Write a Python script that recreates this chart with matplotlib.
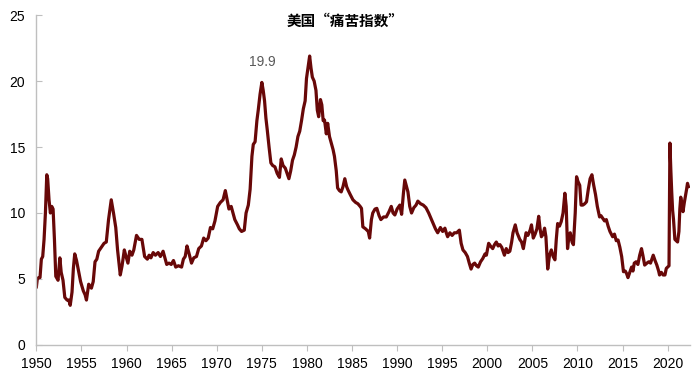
import matplotlib.pyplot as plt

plt.rcParams['font.family'] = ['Liberation Sans', 'DejaVu Sans']

# 美国“痛苦指数” (失业率 + CPI同比)
years = [
    1950.0, 1950.1, 1950.25, 1950.4, 1950.55, 1950.7, 1950.85, 1951.0, 1951.15, 1951.25,
    1951.4, 1951.55, 1951.7, 1951.85, 1952.0, 1952.15, 1952.4, 1952.6, 1952.75, 1952.95,
    1953.15, 1953.4, 1953.6, 1953.75, 1953.95, 1954.1, 1954.25, 1954.45, 1954.65, 1954.9,
    1955.2, 1955.4, 1955.55, 1955.8, 1956.1, 1956.3, 1956.5, 1956.7, 1956.9, 1957.2,
    1957.5, 1957.75, 1958.0, 1958.3, 1958.55, 1958.8, 1959.0, 1959.3, 1959.5, 1959.75,
    1959.9, 1960.15, 1960.35, 1960.6, 1960.8, 1961.1, 1961.4, 1961.7, 1962.0, 1962.3,
    1962.5, 1962.7, 1962.95, 1963.2, 1963.5, 1963.75, 1964.05, 1964.25, 1964.45, 1964.7,
    1964.95, 1965.2, 1965.45, 1965.75, 1966.1, 1966.3, 1966.5, 1966.7, 1966.9, 1967.2,
    1967.45, 1967.75, 1968.0, 1968.3, 1968.55, 1968.8, 1969.05, 1969.3, 1969.55, 1969.8,
    1970.1, 1970.4, 1970.7, 1970.95, 1971.15, 1971.35, 1971.6, 1971.8, 1972.0, 1972.3,
    1972.5, 1972.75, 1973.05, 1973.25, 1973.5, 1973.7, 1973.9, 1974.05, 1974.25, 1974.45,
    1974.6, 1974.8, 1975.0, 1975.15, 1975.3, 1975.45, 1975.6, 1975.8, 1976.0, 1976.2,
    1976.45, 1976.7, 1976.95, 1977.15, 1977.35, 1977.6, 1977.8, 1978.0, 1978.2, 1978.4,
    1978.6, 1978.8, 1979.0, 1979.2, 1979.4, 1979.6, 1979.8, 1979.95, 1980.15, 1980.3,
    1980.45, 1980.6, 1980.8, 1981.0, 1981.15, 1981.3, 1981.5, 1981.65, 1981.8, 1981.95,
    1982.15, 1982.3, 1982.5, 1982.7, 1982.9, 1983.05, 1983.25, 1983.4, 1983.6, 1983.8,
    1984.0, 1984.2, 1984.4, 1984.55, 1984.8, 1985.1, 1985.4, 1985.65, 1985.9, 1986.05,
    1986.2, 1986.5, 1986.8, 1986.95, 1987.15, 1987.3, 1987.55, 1987.75, 1988.0, 1988.2,
    1988.5, 1988.8, 1989.1, 1989.35, 1989.55, 1989.75, 1990.0, 1990.3, 1990.5, 1990.7,
    1990.85, 1991.0, 1991.2, 1991.4, 1991.6, 1991.85, 1992.1, 1992.3, 1992.6, 1992.9,
    1993.2, 1993.5, 1993.75, 1994.0, 1994.25, 1994.5, 1994.8, 1995.05, 1995.3, 1995.45,
    1995.6, 1995.85, 1996.1, 1996.35, 1996.6, 1996.9, 1997.1, 1997.3, 1997.55, 1997.8,
    1998.0, 1998.2, 1998.4, 1998.6, 1998.8, 1999.0, 1999.25, 1999.5, 1999.75, 1999.9,
    2000.15, 2000.35, 2000.6, 2000.8, 2001.0, 2001.2, 2001.4, 2001.6, 2001.9, 2002.1,
    2002.3, 2002.5, 2002.7, 2002.85, 2003.1, 2003.3, 2003.6, 2003.8, 2004.0, 2004.3,
    2004.5, 2004.75, 2004.9, 2005.1, 2005.3, 2005.5, 2005.7, 2005.85, 2006.0, 2006.2,
    2006.35, 2006.5, 2006.7, 2006.9, 2007.1, 2007.3, 2007.5, 2007.65, 2007.8, 2008.0,
    2008.2, 2008.4, 2008.6, 2008.75, 2008.9, 2009.05, 2009.2, 2009.4, 2009.55, 2009.75,
    2009.9, 2010.05, 2010.25, 2010.4, 2010.6, 2010.8, 2011.0, 2011.2, 2011.4, 2011.6,
    2011.8, 2012.0, 2012.2, 2012.45, 2012.6, 2012.8, 2013.0, 2013.2, 2013.4, 2013.6,
    2013.9, 2014.1, 2014.3, 2014.5, 2014.7, 2014.9, 2015.1, 2015.3, 2015.45, 2015.6,
    2015.8, 2016.0, 2016.15, 2016.3, 2016.5, 2016.7, 2016.9, 2017.1, 2017.25, 2017.45,
    2017.7, 2017.9, 2018.1, 2018.4, 2018.6, 2018.8, 2019.0, 2019.1, 2019.3, 2019.5,
    2019.7, 2019.85, 2020.0, 2020.15, 2020.25, 2020.35, 2020.45, 2020.55, 2020.65, 2020.8,
    2020.95, 2021.1, 2021.25, 2021.35, 2021.45, 2021.55, 2021.7, 2021.85, 2022.0, 2022.1,
    2022.2, 2022.3,
]
misery = [
    4.4, 5.0, 5.1, 5.1, 6.5, 6.7, 8.0, 10.0, 12.9, 12.6,
    11.0, 10.0, 10.5, 10.3, 8.0, 5.2, 4.9, 6.6, 5.5, 4.9,
    3.6, 3.4, 3.4, 3.0, 4.0, 5.8, 6.9, 6.4, 5.7, 4.8,
    4.1, 3.8, 3.4, 4.6, 4.3, 4.8, 6.3, 6.5, 7.1, 7.4,
    7.7, 7.8, 9.5, 11.0, 10.0, 8.9, 7.2, 5.3, 6.0, 7.2,
    6.8, 6.2, 7.1, 6.8, 7.2, 8.3, 8.0, 8.0, 6.7, 6.5,
    6.8, 6.6, 7.0, 6.8, 7.0, 6.7, 7.1, 6.6, 6.1, 6.2,
    6.1, 6.4, 5.9, 6.0, 5.9, 6.5, 6.7, 7.5, 7.0, 6.2,
    6.6, 6.7, 7.3, 7.5, 8.1, 7.9, 8.1, 8.9, 8.8, 9.4,
    10.5, 10.8, 11.0, 11.7, 11.0, 10.3, 10.5, 10.0, 9.5, 9.1,
    8.8, 8.6, 8.7, 10.0, 10.6, 11.8, 14.3, 15.2, 15.4, 17.0,
    17.8, 19.0, 19.9, 19.3, 18.5, 17.2, 16.3, 15.0, 13.8, 13.6,
    13.5, 13.0, 12.7, 14.1, 13.6, 13.4, 13.0, 12.6, 13.2, 14.0,
    14.4, 15.0, 15.8, 16.2, 17.0, 17.9, 18.5, 20.2, 21.2, 21.9,
    21.0, 20.3, 20.0, 19.3, 17.8, 17.3, 18.6, 18.2, 17.0, 17.05,
    16.0, 16.8, 15.8, 15.3, 14.8, 14.3, 13.2, 11.9, 11.7, 11.6,
    12.0, 12.6, 12.0, 11.75, 11.4, 11.0, 10.8, 10.7, 10.5, 10.35,
    8.95, 8.8, 8.6, 8.1, 9.5, 10.0, 10.3, 10.35, 9.8, 9.5,
    9.7, 9.7, 10.1, 10.5, 10.0, 9.85, 10.3, 10.6, 9.9, 11.5,
    12.5, 12.1, 11.6, 10.5, 10.0, 10.4, 10.6, 10.9, 10.7, 10.6,
    10.4, 10.0, 9.6, 9.2, 8.8, 8.5, 8.9, 8.6, 8.85, 8.5,
    8.2, 8.5, 8.3, 8.5, 8.5, 8.7, 7.7, 7.2, 7.0, 6.7,
    6.2, 5.75, 6.1, 6.2, 6.0, 5.9, 6.3, 6.55, 6.9, 6.8,
    7.7, 7.5, 7.3, 7.6, 7.8, 7.5, 7.6, 7.4, 6.8, 7.3,
    7.0, 7.1, 7.8, 8.5, 9.1, 8.5, 8.0, 7.8, 7.3, 8.5,
    8.3, 8.7, 9.1, 8.1, 8.4, 8.8, 9.75, 8.8, 8.2, 8.4,
    8.85, 8.2, 5.75, 6.8, 7.2, 6.7, 6.45, 8.0, 9.2, 9.0,
    9.35, 10.0, 11.5, 10.5, 7.3, 8.2, 8.5, 7.8, 7.6, 10.0,
    12.75, 12.4, 12.1, 10.6, 10.6, 10.7, 10.85, 11.8, 12.6, 12.9,
    12.1, 11.4, 10.5, 9.7, 9.8, 9.6, 9.4, 9.5, 9.0, 8.6,
    8.2, 8.4, 7.9, 7.95, 7.4, 6.7, 5.55, 5.6, 5.4, 5.1,
    5.5, 5.9, 5.6, 6.2, 6.3, 6.1, 6.8, 7.3, 6.8, 6.05,
    6.2, 6.3, 6.2, 6.8, 6.4, 6.05, 5.6, 5.3, 5.5, 5.3,
    5.3, 5.8, 5.9, 6.0, 15.3, 13.3, 11.6, 10.2, 9.5, 8.0,
    7.9, 7.8, 8.6, 10.3, 11.2, 10.8, 10.1, 10.8, 11.4, 11.8,
    12.25, 12.0,
]
x_ticks = list(range(1950, 2021, 5))
y_ticks = [0, 5, 10, 15, 20, 25]

fig = plt.figure(figsize=(7, 3.79), dpi=100)
ax = fig.add_axes([0.052, 0.090, 0.934, 0.870])

ax.plot(years, misery, color='#680808', lw=2.3)

ax.set_xlim(1950, 2022.5)
ax.set_ylim(0, 25)
ax.set_xticks(x_ticks)
ax.set_yticks(y_ticks)

for s in ['top', 'right']:
    ax.spines[s].set_visible(False)
for s in ['left', 'bottom']:
    ax.spines[s].set_color('#bfbfbf')
    ax.spines[s].set_linewidth(1.0)
ax.tick_params(axis='x', direction='out', length=4, color='#bfbfbf', labelsize=10, pad=5)
ax.tick_params(axis='y', direction='in', length=4, color='#bfbfbf', labelsize=10, pad=8)

ax.annotate('19.9', xy=(1975.0, 19.9), xytext=(0, 10), textcoords='offset points',
            ha='center', va='bottom', fontsize=10, color='#595959')

fig.text(0.493, 0.945, '美国“痛苦指数”', ha='center', va='center', fontsize=10.5,
         fontweight='bold', family=['Noto Sans CJK SC', 'DejaVu Sans'])

fig.savefig('out.png', dpi=100)
